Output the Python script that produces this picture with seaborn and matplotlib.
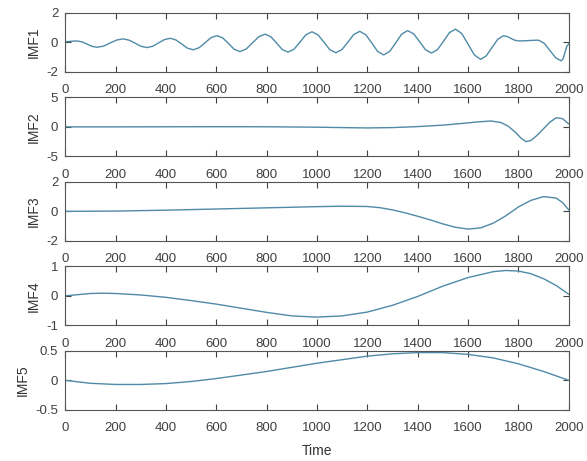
import numpy as np
import pandas as pd
import matplotlib
matplotlib.use("Agg")
import matplotlib.pyplot as plt
import seaborn as sns
from matplotlib.ticker import FormatStrFormatter

# IMF components (time, value)
imf1_t = [0, 12, 24, 35, 47, 67, 87, 107, 127, 153, 178, 204, 230, 254, 278, 301, 325,
          348, 371, 394, 417, 440, 463, 485, 508, 532, 556, 579, 603, 626, 649, 671, 694,
          719, 744, 769, 794, 817, 840, 862, 885, 909, 933, 956, 980, 1004, 1028, 1051,
          1075, 1099, 1123, 1146, 1170, 1194, 1218, 1241, 1265, 1289, 1313, 1336, 1360,
          1384, 1408, 1431, 1455, 1479, 1503, 1526, 1550, 1575, 1600, 1625, 1650, 1672,
          1695, 1718, 1740, 1755, 1770, 1785, 1800, 1820, 1840, 1860, 1880, 1902, 1925,
          1948, 1970, 1978, 1985, 1992, 2000]
imf1_v = [0.05, 0.06, 0.075, 0.09, 0.10, 0.037, -0.115, -0.267, -0.33, -0.247, -0.045,
          0.157, 0.24, 0.154, -0.055, -0.264, -0.35, -0.258, -0.035, 0.188, 0.28, 0.166,
          -0.11, -0.386, -0.50, -0.36, -0.02, 0.32, 0.46, 0.302, -0.08, -0.462, -0.62,
          -0.448, -0.03, 0.388, 0.56, 0.382, -0.05, -0.482, -0.66, -0.459, 0.03, 0.519,
          0.72, 0.513, 0.01, -0.493, -0.70, -0.488, 0.025, 0.538, 0.75, 0.516, -0.05,
          -0.616, -0.85, -0.609, -0.025, 0.559, 0.80, 0.578, 0.04, -0.498, -0.72, -0.483,
          0.09, 0.663, 0.90, 0.601, -0.125, -0.851, -1.15, -0.916, -0.35, 0.216, 0.45,
          0.399, 0.275, 0.151, 0.10, 0.107, 0.125, 0.143, 0.15, -0.054, -0.55, -1.046,
          -1.25, -1.082, -0.675, -0.268, -0.10]

imf2_t = [0, 200, 400, 600, 800, 1000, 1100, 1200, 1300, 1400, 1500, 1580, 1640, 1690,
          1730, 1760, 1790, 1810, 1830, 1850, 1875, 1900, 1925, 1950, 1975, 2000]
imf2_v = [0, 0, 0.02, 0.03, 0.02, -0.05, -0.12, -0.18, -0.12, 0.05, 0.3, 0.6, 0.85, 1.0,
          0.75, 0.1, -1.0, -1.9, -2.5, -2.3, -1.4, -0.3, 0.8, 1.55, 1.4, 0.5]

imf3_t = [0, 200, 400, 600, 800, 1000, 1100, 1200, 1250, 1300, 1350, 1400, 1450, 1500,
          1550, 1600, 1650, 1700, 1750, 1800, 1850, 1900, 1950, 1975, 2000]
imf3_v = [0.0, 0.02, 0.08, 0.16, 0.24, 0.32, 0.35, 0.33, 0.25, 0.1, -0.1, -0.33, -0.58,
          -0.85, -1.08, -1.2, -1.12, -0.8, -0.3, 0.3, 0.75, 1.0, 0.9, 0.6, 0.1]

imf4_t = [0, 100, 150, 200, 300, 400, 500, 600, 700, 800, 900, 1000, 1100, 1200, 1300,
          1400, 1500, 1600, 1700, 1750, 1800, 1850, 1900, 1950, 2000]
imf4_v = [0.0, 0.08, 0.09, 0.08, 0.03, -0.05, -0.16, -0.28, -0.42, -0.56, -0.68, -0.72,
          -0.68, -0.55, -0.32, -0.02, 0.33, 0.62, 0.82, 0.86, 0.84, 0.75, 0.58, 0.35, 0.05]

imf5_t = [0, 100, 200, 300, 400, 500, 600, 700, 800, 900, 1000, 1100, 1200, 1300, 1400,
          1500, 1600, 1700, 1800, 1900, 2000]
imf5_v = [0.0, -0.05, -0.07, -0.07, -0.055, -0.02, 0.03, 0.09, 0.15, 0.22, 0.29, 0.35,
          0.41, 0.45, 0.47, 0.47, 0.44, 0.38, 0.28, 0.15, 0.0]

names = ["IMF1", "IMF2", "IMF3", "IMF4", "IMF5"]
series = [(imf1_t, imf1_v), (imf2_t, imf2_v), (imf3_t, imf3_v),
          (imf4_t, imf4_v), (imf5_t, imf5_v)]
ylims = [(-2, 2), (-5, 5), (-2, 2), (-1, 1), (-0.5, 0.5)]

sns.set_style("white")
plt.rcParams["font.family"] = ["Liberation Sans", "DejaVu Sans"]

fig, axes = plt.subplots(5, 1, figsize=(5.87, 4.61), dpi=100)
fig.subplots_adjust(left=0.111, right=0.969, top=0.972, bottom=0.111, hspace=0.432)

for ax, name, (t, v), (lo, hi) in zip(axes, names, series, ylims):
    df = pd.DataFrame({"t": t, "v": v})
    sns.lineplot(data=df, x="t", y="v", ax=ax, color="#4f8aa6", lw=1.0)
    ax.set_xlim(0, 2000)
    ax.set_ylim(lo, hi)
    ax.set_xticks(range(0, 2001, 200))
    ax.set_yticks([lo, 0, hi])
    ax.yaxis.set_major_formatter(FormatStrFormatter("%g"))
    # matlab-like box: inward ticks on all four sides
    ax.tick_params(direction="in", length=4.5, width=0.8, bottom=True, left=True,
                   top=True, right=True, labelsize=9.5, colors="#404040")
    ax.tick_params(axis="x", pad=9)
    ax.tick_params(axis="y", pad=5)
    for s in ax.spines.values():
        s.set_color("#555555")
        s.set_linewidth(0.8)
    ax.set_xlabel("")
    ax.set_ylabel(name, fontsize=10, color="#333333", labelpad=4)

axes[-1].set_xlabel("Time", fontsize=10, color="#333333", labelpad=7)

fig.savefig("out.png", dpi=100)
